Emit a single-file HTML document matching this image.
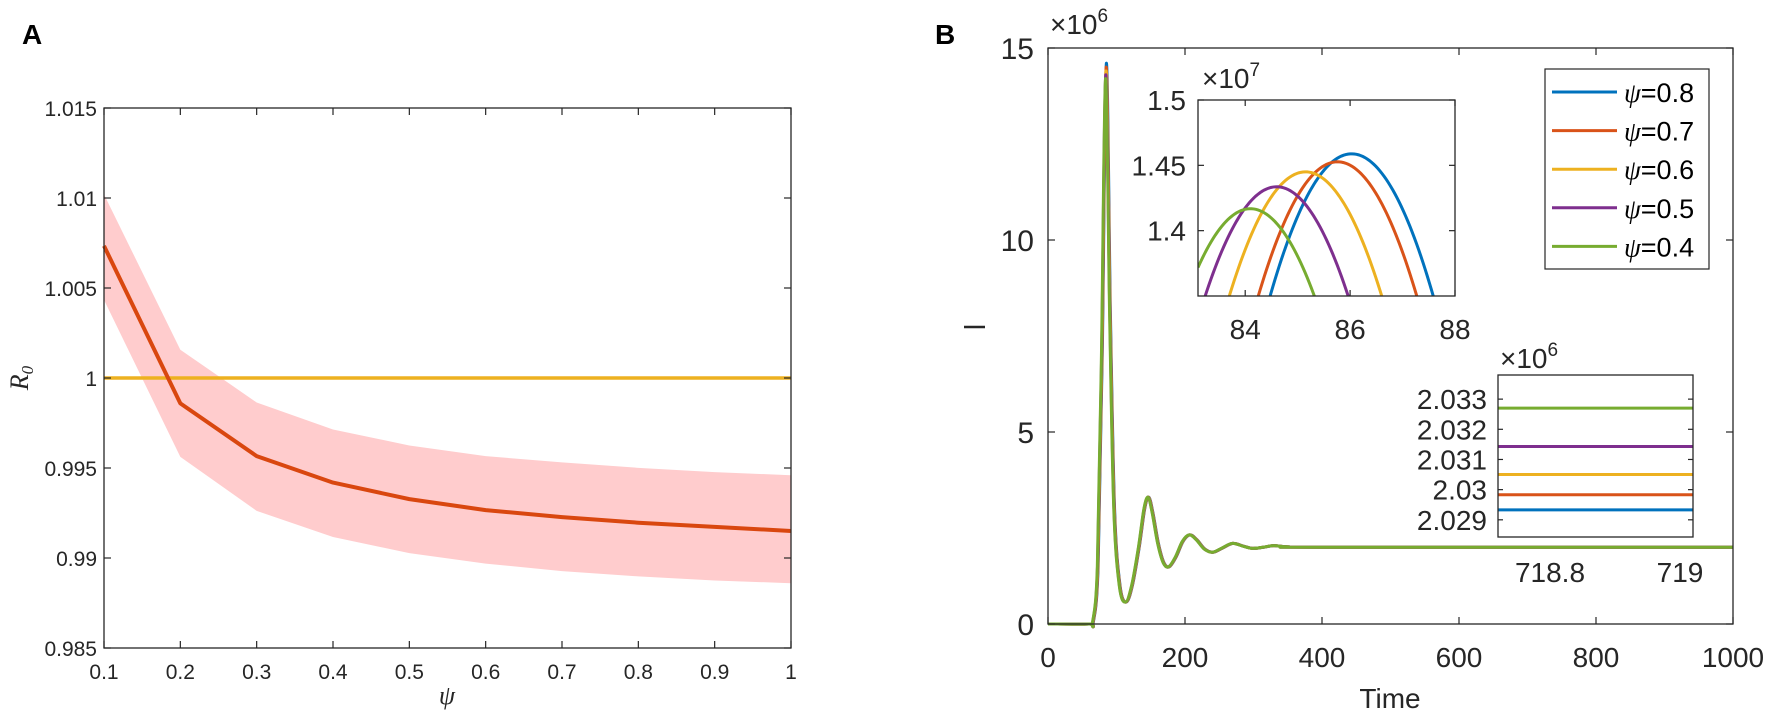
<!DOCTYPE html>
<html><head><meta charset="utf-8"><style>
html,body{margin:0;padding:0;background:#fff;width:1772px;height:721px;overflow:hidden}
svg{display:block;font-family:"Liberation Sans",sans-serif}
</style></head><body>
<svg id="fig" width="1772" height="721" viewBox="0 0 1772 721" xmlns="http://www.w3.org/2000/svg"></svg>
<script>
// ---------- Panel A data ----------
const psiVals = [0.1,0.2,0.3,0.4,0.5,0.6,0.7,0.8,0.9,1.0];
const r0Mean  = [1.00734,0.99859,0.99566,0.99419,0.99327,0.99266,0.99227,0.99196,0.99173,0.9915];
const r0Upper = [1.0102,1.00157,0.99864,0.99714,0.99625,0.99566,0.99531,0.99501,0.99477,0.9946];
const r0Lower = [1.00434,0.99562,0.99262,0.99117,0.99027,0.98969,0.98927,0.98898,0.98875,0.9886];
const thresholdValue = 1.0;
const aXTicks = [0.1,0.2,0.3,0.4,0.5,0.6,0.7,0.8,0.9,1];
const aXTickLabels = ["0.1","0.2","0.3","0.4","0.5","0.6","0.7","0.8","0.9","1"];
const aYTicks = [0.985,0.99,0.995,1,1.005,1.01,1.015];
const aYTickLabels = ["0.985","0.99","0.995","1","1.005","1.01","1.015"];
// ---------- Panel B data ----------
const seriesNames = ["ψ=0.8","ψ=0.7","ψ=0.6","ψ=0.5","ψ=0.4"];
const timePts = [0,60,65,72,78,84,90,96,104,113,122,132,140,146,152,160,168,176,186,196,206,216,228,240,254,269,284,298,314,329,350,400,1000];
const infectedPts = [0,0,0.05,1.5,7,14.2,8,3,1.0,0.57,1.0,2.0,3.0,3.3,2.9,2.1,1.6,1.49,1.75,2.15,2.32,2.2,1.95,1.87,1.98,2.1,2.03,1.97,2.0,2.04,2.01,2.0,2.0];
const seriesPeak = [14.6,14.5,14.4,14.3,14.2];
const seriesShift = [1.2,0.9,0.6,0.3,0];
const bXTicks = [0,200,400,600,800,1000];
const bYTicks = [0,5,10,15];
// inset 1 (zoom of peak)
const peakTimes = [86.03,85.76,85.15,84.6,84.1];
const peakValues = [1.4588,1.4527,1.445,1.4336,1.4168];
const peakCurv = [0.045,0.045,0.045,0.045,0.045];
const in1XTicks = [84,86,88];
const in1YTicks = [1.4,1.45,1.5];
const in1YTickLabels = ["1.4","1.45","1.5"];
// inset 2 (steady state)
const steadyValues = [2.02933,2.02983,2.0305,2.03143,2.0327];
const in2YTicks = [2.029,2.03,2.031,2.032,2.033];
const in2YTickLabels = ["2.029","2.03","2.031","2.032","2.033"];
const in2XTicks = [718.8,719];
const in2XTickLabels = ["718.8","719"];
const colors = ["#0072bd","#d95319","#edb120","#7e2f8e","#77ac30"];

const NS="http://www.w3.org/2000/svg";
const svg=document.getElementById('fig');
function el(tag,attrs,parent){const e=document.createElementNS(NS,tag);for(const k in attrs)e.setAttribute(k,attrs[k]);(parent||svg).appendChild(e);return e;}
function lin(d0,d1,r0,r1){return v=>r0+(v-d0)*(r1-r0)/(d1-d0);}
function txt(s,x,y,size,anchor,parent){const t=el('text',{x:x,y:y,'font-size':size,'text-anchor':anchor||'middle',fill:'#262626'},parent);t.textContent=s;return t;}

// ===== Panel A =====
const gA=el('g',{});


const axL=104,axR=791,axT=108,axB=648;
const ax=lin(0.1,1,axL,axR), ay=lin(0.985,1.015,axB,axT);
let band="";
psiVals.forEach((p,i)=>band+=(i?"L":"M")+ax(p)+","+ay(r0Upper[i]));
for(let i=psiVals.length-1;i>=0;i--)band+="L"+ax(psiVals[i])+","+ay(r0Lower[i]);
const bandEl=el('path',{d:band+"Z",fill:'#ffcccd',stroke:'none'},gA);


const thr=el('line',{x1:axL,x2:axR,y1:ay(thresholdValue),y2:ay(thresholdValue),stroke:'#edb120','stroke-width':3.5},gA);


let md="";psiVals.forEach((p,i)=>md+=(i?"L":"M")+ax(p)+","+ay(r0Mean[i]));
const meanEl=el('path',{d:md,fill:'none',stroke:'#d9470f','stroke-width':4,'stroke-linejoin':'round'},gA);


el('rect',{x:axL,y:axT,width:axR-axL,height:axB-axT,fill:'none',stroke:'#262626','stroke-width':1.3},gA);
aXTicks.forEach((t,i)=>{const x=ax(t);
  el('line',{x1:x,x2:x,y1:axB,y2:axB-7,stroke:'#262626','stroke-width':1.2},gA);
  el('line',{x1:x,x2:x,y1:axT,y2:axT+7,stroke:'#262626','stroke-width':1.2},gA);
  const l=txt(aXTickLabels[i],x,679,21,'middle',gA);
  
  });
aYTicks.forEach((t,i)=>{const y=ay(t);
  el('line',{x1:axL,x2:axL+7,y1:y,y2:y,stroke:'#262626','stroke-width':1.2},gA);
  el('line',{x1:axR,x2:axR-7,y1:y,y2:y,stroke:'#262626','stroke-width':1.2},gA);
  const l=txt(aYTickLabels[i],97,y+8,21,'end',gA);
  
  });
const xt=el('text',{x:447,y:704,'font-size':26,'font-style':'italic','font-family':'"Liberation Serif",serif','text-anchor':'middle',fill:'#262626'},gA);xt.textContent='ψ';


const yt=el('text',{x:0,y:0,'font-size':26,'font-style':'italic','font-family':'"Liberation Serif",serif','text-anchor':'middle',fill:'#262626',transform:'translate(28,378) rotate(-90)'},gA);
yt.innerHTML='R<tspan font-size="17" dy="5">0</tspan>';


const la=el('text',{x:22,y:44,'font-size':28,'font-weight':'bold',fill:'#000'},gA);la.textContent='A';



// ===== Panel B =====
const gB=el('g',{});


const bL=1048,bR=1733,bT=48,bB=624;
const bx=lin(0,1000,bL,bR), by=lin(0,15,bB,bT);
function smoothPath(xs,ys,fx,fy){
  const P=xs.map((x,i)=>[fx(x),fy(ys[i])]);let d="M"+P[0][0]+","+P[0][1];
  for(let i=0;i<P.length-1;i++){const p0=P[Math.max(0,i-1)],p1=P[i],p2=P[i+1],p3=P[Math.min(P.length-1,i+2)];
    const c1=[p1[0]+(p2[0]-p0[0])/6,p1[1]+(p2[1]-p0[1])/6],c2=[p2[0]-(p3[0]-p1[0])/6,p2[1]-(p3[1]-p1[1])/6];
    d+="C"+c1[0]+","+c1[1]+" "+c2[0]+","+c2[1]+" "+p2[0]+","+p2[1];}
  return d;}
const pkIdx=infectedPts.indexOf(Math.max(...infectedPts));
seriesNames.forEach((n,s)=>{
  const ts=timePts.map((t,i)=>i>1&&i<timePts.length-2?t+seriesShift[s]:t);
  const vs=infectedPts.map((v,i)=>i===pkIdx?seriesPeak[s]:v);
  const p=el('path',{d:smoothPath(ts,vs,bx,by),fill:'none',stroke:colors[s],'stroke-width':3,'stroke-linejoin':'round'},gB);
  
  });
el('rect',{x:bL,y:bT,width:bR-bL,height:bB-bT,fill:'none',stroke:'#262626','stroke-width':1.3},gB);
bXTicks.forEach(t=>{const x=bx(t);
  el('line',{x1:x,x2:x,y1:bB,y2:bB-7,stroke:'#262626','stroke-width':1.2},gB);
  el('line',{x1:x,x2:x,y1:bT,y2:bT+7,stroke:'#262626','stroke-width':1.2},gB);
  const l=txt(String(t),x,667,28,'middle',gB);
  
  });
bYTicks.forEach(t=>{const y=by(t);
  el('line',{x1:bL,x2:bL+7,y1:y,y2:y,stroke:'#262626','stroke-width':1.2},gB);
  el('line',{x1:bR,x2:bR-7,y1:y,y2:y,stroke:'#262626','stroke-width':1.2},gB);
  const l=txt(String(t),1034,y+11,30,'end',gB);
  
  });
const ex=el('text',{x:1050,y:34,'font-size':28,fill:'#262626'},gB);ex.innerHTML='×10<tspan font-size="19" dy="-12">6</tspan>';


const bxt=txt('Time',1390,708,28,'middle',gB);


const byt=el('line',{x1:964,x2:985,y1:327,y2:327,stroke:'#262626','stroke-width':2.5},gB);
const bytT=el('text',{x:0,y:0,'font-size':28,'text-anchor':'middle',fill:'#262626',transform:'translate(985,328) rotate(-90)',opacity:0},gB);bytT.textContent='I';


const lb=el('text',{x:935,y:44,'font-size':28,'font-weight':'bold',fill:'#000'},gB);lb.textContent='B';



// ----- Inset 1 -----
const g1=el('g',{},gB);


const iL=1198,iR=1455,iT=100,iB=296;
el('rect',{x:iL,y:iT,width:iR-iL,height:iB-iT,fill:'#fff',stroke:'none'},g1);
const ix=lin(83.1,88,iL,iR), iy=lin(1.35,1.5,iB,iT);
const cp=el('clipPath',{id:'c1'},g1);el('rect',{x:iL,y:iT,width:iR-iL,height:iB-iT},cp);
peakTimes.forEach((pt,s)=>{let d="";
  for(let k=0;k<=120;k++){const t=83.1+k*(4.9/120);const v=peakValues[s]-peakCurv[s]*(t-pt)*(t-pt);d+=(k?"L":"M")+ix(t)+","+iy(v);}
  const p=el('path',{d:d,fill:'none',stroke:colors[s],'stroke-width':3,'clip-path':'url(#c1)'},g1);
  
  });
el('rect',{x:iL,y:iT,width:iR-iL,height:iB-iT,fill:'none',stroke:'#262626','stroke-width':1.3},g1);
in1XTicks.forEach(t=>{const x=ix(t);
  el('line',{x1:x,x2:x,y1:iB,y2:iB-6,stroke:'#262626','stroke-width':1.2},g1);
  el('line',{x1:x,x2:x,y1:iT,y2:iT+6,stroke:'#262626','stroke-width':1.2},g1);
  txt(String(t),x,339,28,'middle',g1);});
in1YTicks.forEach((t,i)=>{const y=iy(t);
  el('line',{x1:iL,x2:iL+6,y1:y,y2:y,stroke:'#262626','stroke-width':1.2},g1);
  el('line',{x1:iR,x2:iR-6,y1:y,y2:y,stroke:'#262626','stroke-width':1.2},g1);
  txt(in1YTickLabels[i],1186,y+10,28,'end',g1);});
const e1=el('text',{x:1202,y:88,'font-size':28,fill:'#262626'},g1);e1.innerHTML='×10<tspan font-size="19" dy="-12">7</tspan>';

// ----- Inset 2 -----
const g2=el('g',{},gB);


const jL=1498,jR=1693,jT=375,jB=537;
el('rect',{x:jL,y:jT,width:jR-jL,height:jB-jT,fill:'#fff',stroke:'none'},g2);
const jy=lin(2.02843,2.0338,jB,jT), jx=lin(718.72,719.02,jL,jR);
steadyValues.forEach((v,s)=>{const l=el('line',{x1:jL,x2:jR,y1:jy(v),y2:jy(v),stroke:colors[s],'stroke-width':3},g2);
  
  });
el('rect',{x:jL,y:jT,width:jR-jL,height:jB-jT,fill:'none',stroke:'#262626','stroke-width':1.3},g2);
in2YTicks.forEach((t,i)=>{const y=jy(t);
  el('line',{x1:jL,x2:jL+5,y1:y,y2:y,stroke:'#262626','stroke-width':1.2},g2);
  el('line',{x1:jR,x2:jR-5,y1:y,y2:y,stroke:'#262626','stroke-width':1.2},g2);
  txt(in2YTickLabels[i],1487,y+10,28,'end',g2);});
in2XTicks.forEach((t,i)=>{txt(in2XTickLabels[i],jx(t),582,28,'middle',g2);});
const e2=el('text',{x:1500,y:368,'font-size':28,fill:'#262626'},g2);e2.innerHTML='×10<tspan font-size="19" dy="-12">6</tspan>';

// ----- Legend -----
const gl=el('g',{},gB);


el('rect',{x:1545,y:69,width:164,height:200,fill:'#fff',stroke:'#262626','stroke-width':1.2},gl);
seriesNames.forEach((n,s)=>{const y=92+s*38.6;
  const e=el('g',{},gl);
  
  
  el('line',{x1:1552,x2:1617,y1:y,y2:y,stroke:colors[s],'stroke-width':3},e);
  const t=el('text',{x:1624,y:y+10,'font-size':27,fill:'#000'},e);
  t.innerHTML='<tspan font-family="Liberation Serif,serif" font-style="italic">ψ</tspan>'+n.slice(1);});
</script>
</body></html>
